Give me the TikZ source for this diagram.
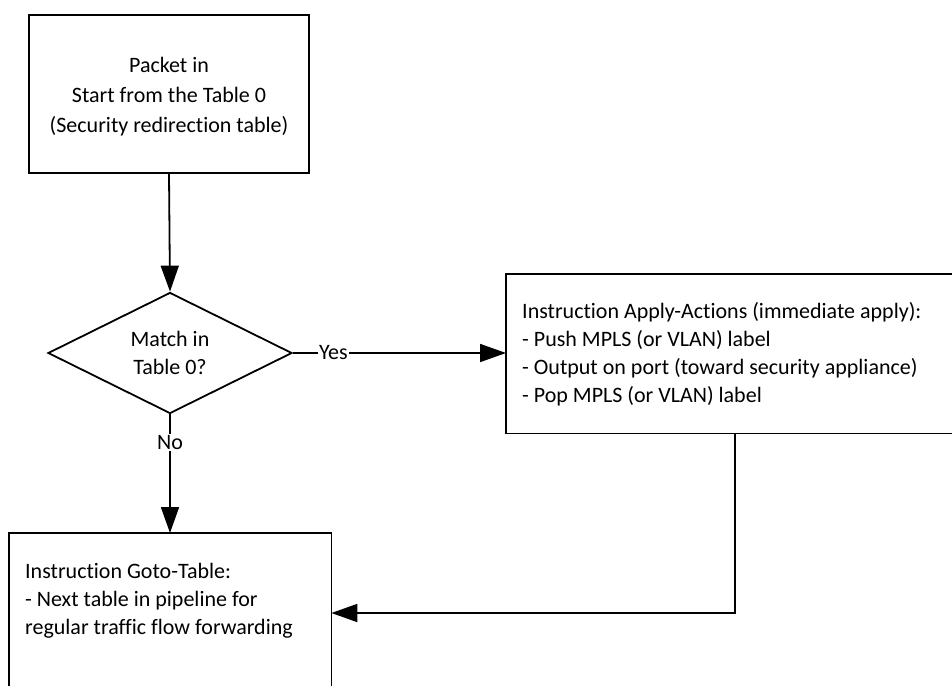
\documentclass[tikz,border=0pt]{standalone}
\usepackage{fontspec}
\setmainfont{Carlito}[Ligatures=NoCommon]
\usetikzlibrary{arrows.meta,shapes.geometric,calc}
\begin{document}
\begin{tikzpicture}[x=1pt,y=-1pt,
  txt/.style={font=\fontsize{22}{28}\selectfont, inner sep=0pt},
  box/.style={draw, rectangle, line width=1.8pt, inner sep=0pt},
  frame/.style={line width=1.8pt},
  decision/.style={draw, diamond, line width=1.8pt, inner sep=0pt, aspect=2},
  flow/.style={line width=1.8pt, -{Triangle[length=26pt,width=18pt]}},
  tag/.style={txt, fill=white, inner sep=1.5pt}]
\useasboundingbox (0,0) rectangle (952,686);

% start of the pipeline
\node[box, minimum width=280pt, minimum height=158pt] (start) at (169,94) {};
\node[txt, align=center, font=\fontsize{22}{30}\selectfont] (starttext) at (169,97)
  {Packet in\\Start from the Table 0\\(Security redirection table)};

% table 0 lookup
\node[decision, txt, align=center, minimum width=244pt, minimum height=121pt] (match) at (170,353)
  {Match in\\Table 0?};

% apply-actions instruction: open on the right, it runs past the edge
\node[anchor=north west, inner sep=0pt, minimum width=446pt, minimum height=159pt] (apply) at (506,274) {};
\draw[frame] (apply.north east) -- (apply.north west) -- (apply.south west) -- (apply.south east);
\node[txt, align=left, anchor=west] (applytext) at (522,354)
  {Instruction Apply-Actions (immediate apply):\\- Push MPLS (or VLAN) label\\- Output on port (toward security appliance)\\- Pop MPLS (or VLAN) label};

% goto-table instruction: open at the bottom, it runs past the edge
\node[anchor=north west, inner sep=0pt, minimum width=322pt, minimum height=153pt] (goto) at (9,533) {};
\draw[frame] (goto.south west) -- (goto.north west) -- (goto.north east) -- (goto.south east);
\node[txt, align=left, anchor=west] (gototext) at (25,601)
  {Instruction Goto-Table:\\- Next table in pipeline for\\regular traffic flow forwarding};

\coordinate (turn) at (735,613);

% connectors
\draw[flow] (start.south) -- (match.north);
\draw[flow] (match.east) -- node[tag, pos=0.19] (yes) {Yes} (match.east -| apply.west);
\draw[flow] (match.south) -- node[tag, pos=0.235] (no) {No} (match.south |- goto.north);
\draw[flow] (apply.south -| turn) -- (turn) -- (turn -| goto.east);
\end{tikzpicture}
\end{document}
